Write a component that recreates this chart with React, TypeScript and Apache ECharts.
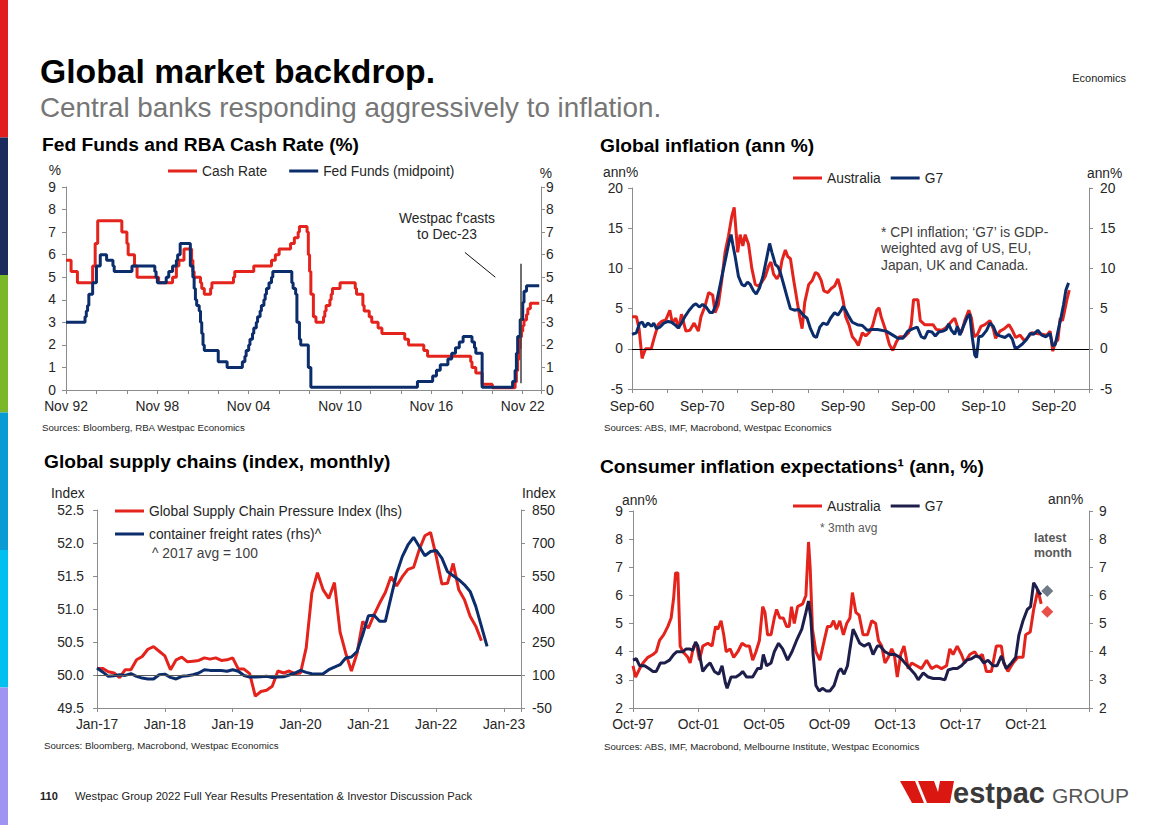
import React, { useEffect, useRef } from 'react';
import * as echarts from 'echarts';

const FF = '"Liberation Sans", Arial, Helvetica, sans-serif';
const FS = 13.8;
const RED = '#E3231C';
const NAVY = '#0B2D6B';
const G7DARK = '#1E1E4B';
const AXIS = '#8C8C8C';
const LABEL = '#262626';

// ---------- Chart 1: Fed Funds and RBA Cash Rate (step changes) ----------
const cashRateSteps: [string, number][] = [
  ['1992-11', 5.75], ['1993-03', 5.25], ['1993-08', 4.75], ['1994-08', 5.5], ['1994-10', 6.5], ['1994-12', 7.5],
  ['1996-07', 7.0], ['1996-11', 6.5], ['1996-12', 6.0], ['1997-05', 5.5], ['1997-07', 5.0], ['1998-12', 4.75],
  ['1999-11', 5.0], ['2000-02', 5.5], ['2000-04', 5.75], ['2000-08', 6.25], ['2001-02', 5.75], ['2001-03', 5.25],
  ['2001-04', 5.0], ['2001-09', 4.75], ['2001-10', 4.5], ['2001-12', 4.25], ['2002-05', 4.5], ['2002-06', 4.75],
  ['2003-11', 5.0], ['2003-12', 5.25], ['2005-03', 5.5], ['2006-05', 5.75], ['2006-08', 6.0], ['2006-11', 6.25],
  ['2007-08', 6.5], ['2007-11', 6.75], ['2008-02', 7.0], ['2008-03', 7.25], ['2008-09', 7.0], ['2008-10', 6.0],
  ['2008-11', 5.25], ['2008-12', 4.25], ['2009-02', 3.25], ['2009-04', 3.0], ['2009-10', 3.25], ['2009-11', 3.5],
  ['2009-12', 3.75], ['2010-03', 4.0], ['2010-04', 4.25], ['2010-05', 4.5], ['2010-11', 4.75], ['2011-11', 4.5],
  ['2011-12', 4.25], ['2012-05', 3.75], ['2012-06', 3.5], ['2012-10', 3.25], ['2012-12', 3.0], ['2013-05', 2.75],
  ['2013-08', 2.5], ['2015-02', 2.25], ['2015-05', 2.0], ['2016-05', 1.75], ['2016-08', 1.5], ['2019-06', 1.25],
  ['2019-07', 1.0], ['2019-10', 0.75], ['2020-03', 0.25], ['2020-11', 0.1], ['2022-05', 0.35], ['2022-06', 0.85],
  ['2022-07', 1.35], ['2022-08', 1.85], ['2022-09', 2.35], ['2022-10', 2.6], ['2022-11', 2.85], ['2022-12', 3.1],
  ['2023-02', 3.35], ['2023-03', 3.6], ['2023-05', 3.85], ['2023-12', 3.85],
];
const fedFundsSteps: [string, number][] = [
  ['1992-11', 3.0], ['1994-02', 3.25], ['1994-03', 3.5], ['1994-04', 3.75], ['1994-05', 4.25], ['1994-08', 4.75],
  ['1994-11', 5.5], ['1995-02', 6.0], ['1995-07', 5.75], ['1995-12', 5.5], ['1996-01', 5.25], ['1997-03', 5.5],
  ['1998-09', 5.25], ['1998-10', 5.0], ['1998-11', 4.75], ['1999-06', 5.0], ['1999-08', 5.25], ['1999-11', 5.5],
  ['2000-02', 5.75], ['2000-03', 6.0], ['2000-05', 6.5], ['2001-01', 5.5], ['2001-03', 5.0], ['2001-04', 4.5],
  ['2001-05', 4.0], ['2001-06', 3.75], ['2001-08', 3.5], ['2001-09', 3.0], ['2001-10', 2.5], ['2001-11', 2.0],
  ['2001-12', 1.75], ['2002-11', 1.25], ['2003-06', 1.0], ['2004-06', 1.25], ['2004-08', 1.5], ['2004-09', 1.75],
  ['2004-11', 2.0], ['2004-12', 2.25], ['2005-02', 2.5], ['2005-03', 2.75], ['2005-05', 3.0], ['2005-06', 3.25],
  ['2005-08', 3.5], ['2005-09', 3.75], ['2005-11', 4.0], ['2005-12', 4.25], ['2006-01', 4.5], ['2006-03', 4.75],
  ['2006-05', 5.0], ['2006-06', 5.25], ['2007-09', 4.75], ['2007-10', 4.5], ['2007-12', 4.25], ['2008-01', 3.0],
  ['2008-03', 2.25], ['2008-04', 2.0], ['2008-10', 1.0], ['2008-12', 0.125], ['2015-12', 0.375], ['2016-12', 0.625],
  ['2017-03', 0.875], ['2017-06', 1.125], ['2017-12', 1.375], ['2018-03', 1.625], ['2018-06', 1.875], ['2018-09', 2.125],
  ['2018-12', 2.375], ['2019-07', 2.125], ['2019-09', 1.875], ['2019-10', 1.625], ['2020-03', 0.125], ['2022-03', 0.375],
  ['2022-05', 0.875], ['2022-06', 1.625], ['2022-07', 2.375], ['2022-09', 3.125], ['2022-11', 3.875], ['2022-12', 4.375],
  ['2023-02', 4.625], ['2023-12', 4.625],
];
const chart1Start = 1992 + 10 / 12; // Nov-92

// ---------- Chart 2: Global inflation (decimal year, ann %) ----------
const ausCpi: [number, number][] = [
  [1960.67, 4.0], [1961.29, 4.0], [1961.67, 2.5], [1962.1, -1.2], [1962.33, -0.6], [1962.6, 0.0], [1963.4, 0.0],
  [1963.8, 1.3], [1964.38, 3.0], [1964.86, 3.4], [1965.48, 3.6], [1966.05, 4.8], [1966.4, 3.2], [1966.9, 3.8],
  [1967.3, 2.5], [1967.7, 4.3], [1968.33, 2.2], [1968.9, 2.3], [1969.5, 3.2], [1970.1, 2.2], [1970.48, 4.0],
  [1971.05, 5.3], [1971.57, 7.0], [1972.14, 6.7], [1972.48, 4.5], [1972.95, 5.5], [1973.43, 8.5], [1973.9, 12.0],
  [1974.38, 14.0], [1974.86, 16.5], [1975.2, 17.6], [1975.43, 15.0], [1975.7, 12.0], [1976.05, 14.2], [1976.43, 12.8],
  [1976.76, 14.2], [1977.24, 13.0], [1977.71, 10.0], [1978.2, 8.0], [1978.67, 7.8], [1979.14, 8.3], [1979.62, 9.0],
  [1980.1, 10.3], [1980.43, 10.8], [1980.8, 9.3], [1981.29, 8.7], [1981.67, 9.3], [1982.0, 11.0], [1982.48, 12.3],
  [1982.8, 11.5], [1983.2, 11.2], [1983.67, 8.5], [1984.14, 6.0], [1984.52, 4.0], [1984.86, 2.5], [1985.24, 5.8],
  [1985.8, 8.0], [1986.3, 8.5], [1986.76, 9.5], [1987.14, 9.3], [1987.57, 8.5], [1987.95, 7.2], [1988.52, 7.0],
  [1989.0, 7.5], [1989.48, 7.8], [1989.95, 8.7], [1990.33, 7.5], [1990.7, 6.0], [1991.05, 4.0], [1991.52, 3.0],
  [1992.0, 1.5], [1992.48, 1.0], [1992.86, 0.4], [1993.43, 2.0], [1993.9, 1.6], [1994.38, 2.0], [1994.86, 2.8],
  [1995.48, 4.8], [1995.8, 5.1], [1996.1, 4.0], [1996.67, 2.5], [1997.29, 0.5], [1997.76, -0.2], [1998.24, 0.8],
  [1998.7, 1.5], [1999.43, 1.5], [2000.0, 2.0], [2000.38, 3.0], [2000.71, 6.1], [2001.33, 6.1], [2001.67, 3.5],
  [2002.29, 3.0], [2003.48, 3.0], [2003.95, 2.4], [2004.67, 2.3], [2005.14, 2.5], [2005.7, 3.0], [2006.2, 3.5],
  [2006.57, 3.8], [2007.05, 2.5], [2007.52, 2.0], [2008.0, 3.5], [2008.57, 4.8], [2008.95, 3.8], [2009.33, 1.5],
  [2009.8, 1.8], [2010.3, 2.8], [2010.86, 3.0], [2011.57, 3.5], [2012.05, 2.5], [2012.38, 1.3], [2013.0, 2.2],
  [2013.62, 2.5], [2014.29, 3.0], [2014.76, 2.3], [2015.24, 1.4], [2015.86, 1.7], [2016.48, 1.0], [2017.05, 1.5],
  [2017.52, 2.0], [2018.24, 1.9], [2018.95, 1.8], [2019.67, 1.7], [2020.14, 2.2], [2020.52, -0.3], [2020.86, 0.8],
  [2021.24, 1.1], [2021.57, 3.8], [2021.9, 3.5], [2022.29, 5.1], [2022.52, 6.1], [2022.86, 7.3],
];
const g7Cpi: [number, number][] = [
  [1960.67, 1.8], [1961.29, 2.0], [1961.76, 3.2], [1962.14, 3.3], [1962.48, 2.7], [1962.95, 3.2], [1963.43, 2.8],
  [1963.76, 3.2], [1964.14, 2.5], [1964.62, 2.7], [1965.19, 3.2], [1965.81, 3.4], [1966.29, 3.3], [1966.76, 3.0],
  [1967.24, 2.6], [1967.71, 3.2], [1968.19, 4.0], [1968.8, 4.8], [1969.38, 5.4], [1969.76, 5.6], [1970.24, 5.2],
  [1970.71, 5.5], [1971.19, 5.2], [1971.76, 4.5], [1972.14, 4.5], [1972.62, 5.5], [1973.1, 7.5], [1973.57, 9.5],
  [1974.05, 11.5], [1974.52, 13.5], [1974.76, 14.2], [1975.0, 13.0], [1975.33, 11.5], [1975.81, 9.0], [1976.29, 8.0],
  [1976.67, 7.8], [1977.1, 8.3], [1977.48, 8.0], [1977.95, 7.2], [1978.33, 6.8], [1978.81, 7.6], [1979.29, 9.0],
  [1979.76, 11.0], [1980.24, 13.1], [1980.57, 12.0], [1981.05, 10.5], [1981.43, 10.2], [1981.76, 9.5], [1982.24, 8.0],
  [1982.71, 6.5], [1983.19, 5.0], [1983.76, 4.8], [1984.38, 4.9], [1985.0, 4.2], [1985.57, 3.8], [1986.05, 2.5],
  [1986.52, 1.6], [1986.9, 1.4], [1987.38, 2.7], [1987.86, 3.2], [1988.43, 3.0], [1988.9, 3.8], [1989.48, 4.5],
  [1989.95, 4.2], [1990.43, 4.8], [1990.71, 5.3], [1991.05, 4.8], [1991.52, 4.0], [1992.0, 3.3], [1992.71, 3.0],
  [1993.43, 2.9], [1994.14, 2.3], [1994.86, 2.4], [1995.57, 2.4], [1996.81, 2.2], [1997.76, 1.7], [1998.48, 1.3],
  [1999.19, 1.3], [1999.9, 2.2], [2000.62, 2.5], [2001.24, 2.7], [2001.81, 1.5], [2002.29, 1.3], [2002.76, 2.2],
  [2003.33, 2.1], [2003.81, 1.6], [2004.29, 2.1], [2004.9, 2.2], [2005.38, 2.4], [2005.71, 3.1], [2006.1, 2.3],
  [2006.57, 1.8], [2006.95, 2.8], [2007.29, 1.7], [2007.76, 2.7], [2008.38, 4.0], [2008.71, 4.3], [2009.05, 1.5],
  [2009.43, -0.8], [2009.67, -1.1], [2010.0, 1.5], [2010.48, 1.6], [2011.1, 2.3], [2011.57, 3.2], [2012.05, 2.8],
  [2012.52, 1.8], [2013.0, 1.6], [2013.71, 1.4], [2014.29, 1.8], [2014.76, 1.2], [2015.14, 0.1], [2015.62, 0.2],
  [2016.19, 0.6], [2016.81, 1.2], [2017.29, 1.9], [2017.76, 1.8], [2018.38, 2.3], [2018.95, 1.7], [2019.52, 1.5],
  [2020.14, 1.9], [2020.48, 0.4], [2020.86, 0.5], [2021.33, 2.5], [2021.71, 4.0], [2022.05, 5.5], [2022.38, 7.3],
  [2022.76, 8.2],
];
const chart2Start = 1960 + 8 / 12; // Sep-60

// ---------- Chart 3: Global supply chains (monthly from Jan-17) ----------
const gscpi: number[] = [
  50.10, 50.10, 50.05, 50.03, 49.96, 50.08, 50.08, 50.23, 50.28, 50.39, 50.43, 50.36,
  50.29, 50.08, 50.23, 50.27, 50.20, 50.21, 50.22, 50.26, 50.24, 50.26, 50.22, 50.23,
  50.26, 50.09, 50.09, 50.02, 49.68, 49.75, 49.77, 49.83, 50.06, 50.03, 50.06, 50.02,
  50.03, 50.41, 51.24, 51.55, 51.29, 51.16, 51.40, 50.65, 50.33, 50.06, 50.33, 50.81,
  50.71, 50.91, 51.09, 51.25, 51.49, 51.35, 51.49, 51.60, 51.63, 51.90, 52.11, 52.16,
  51.80, 51.38, 51.39, 51.69, 51.29, 51.14, 50.89, 50.74, 50.52,
];
const freightRates: number[] = [
  132, 114, 94, 97, 101, 98, 106, 94, 86, 82, 82, 101,
  104, 89, 82, 94, 97, 101, 109, 124, 121, 120, 120, 117,
  124, 117, 98, 91, 91, 92, 94, 89, 91, 92, 100, 109,
  121, 112, 106, 104, 106, 124, 136, 147, 177, 182, 207, 283,
  369, 372, 344, 344, 453, 561, 638, 691, 726, 684, 642, 661,
  666, 631, 570, 551, 533, 510, 480, 412, 321, 230,
];
const FREIGHT_OFFSET = 50; // right axis runs -50..850; shifted so ticks start at a multiple of 150

// ---------- Chart 4: Consumer inflation expectations (decimal year) ----------
const ausExp: [number, number][] = [
  [1997.75, 3.5], [1997.91, 3.1], [1998.16, 3.4], [1998.36, 3.6], [1998.66, 3.8], [1998.97, 3.9], [1999.17, 4.0],
  [1999.37, 4.4], [1999.62, 4.6], [1999.88, 4.9], [2000.08, 5.2], [2000.23, 5.9], [2000.35, 6.8], [2000.49, 6.8],
  [2000.63, 4.2], [2000.8, 4.0], [2001.1, 3.8], [2001.24, 3.6], [2001.45, 4.2], [2001.65, 4.2], [2001.81, 3.7],
  [2002.01, 4.2], [2002.32, 4.3], [2002.58, 4.2], [2002.79, 4.9], [2002.93, 4.8], [2003.13, 5.1], [2003.29, 4.6],
  [2003.44, 4.0], [2003.68, 4.1], [2003.9, 3.8], [2004.15, 4.0], [2004.41, 4.3], [2004.65, 4.2], [2004.86, 4.2],
  [2005.06, 3.7], [2005.26, 4.0], [2005.47, 4.4], [2005.67, 5.6], [2005.81, 5.4], [2005.97, 4.6], [2006.18, 4.6],
  [2006.38, 5.2], [2006.52, 5.5], [2006.72, 5.2], [2006.93, 5.2], [2007.13, 4.9], [2007.29, 4.9], [2007.43, 5.6],
  [2007.6, 5.0], [2007.8, 5.6], [2008.11, 5.7], [2008.31, 6.0], [2008.47, 7.9], [2008.57, 7.0], [2008.71, 4.8],
  [2008.92, 4.0], [2009.16, 3.7], [2009.43, 4.4], [2009.63, 4.9], [2009.83, 4.9], [2010.0, 5.1], [2010.18, 4.8],
  [2010.38, 5.1], [2010.6, 4.6], [2010.8, 5.0], [2011.0, 5.2], [2011.15, 6.1], [2011.36, 5.4], [2011.56, 5.3],
  [2011.8, 4.6], [2012.07, 4.6], [2012.33, 5.1], [2012.57, 5.0], [2012.74, 4.4], [2012.94, 4.2], [2013.14, 3.6],
  [2013.34, 3.8], [2013.55, 4.1], [2013.71, 3.9], [2013.89, 3.1], [2014.1, 3.9], [2014.3, 4.2], [2014.56, 3.4],
  [2014.77, 3.6], [2015.07, 3.5], [2015.37, 3.4], [2015.68, 3.7], [2015.98, 3.4], [2016.29, 3.5], [2016.59, 3.4],
  [2016.9, 3.5], [2017.1, 4.1], [2017.3, 3.9], [2017.55, 4.2], [2017.81, 3.9], [2018.01, 3.6], [2018.32, 3.9],
  [2018.62, 4.0], [2018.83, 3.8], [2019.09, 3.9], [2019.33, 3.3], [2019.64, 3.3], [2019.94, 4.2], [2020.25, 4.2],
  [2020.39, 3.6], [2020.65, 3.3], [2020.96, 3.6], [2021.26, 3.8], [2021.57, 3.8], [2021.73, 4.6], [2022.01, 4.7],
  [2022.22, 5.5], [2022.48, 6.2], [2022.68, 5.7],
];
const g7Exp: [number, number][] = [
  [1997.75, 3.7], [1997.95, 3.75], [1998.16, 3.5], [1998.46, 3.5], [1998.72, 3.4], [1998.97, 3.3], [1999.17, 3.3],
  [1999.42, 3.6], [1999.68, 3.6], [1999.98, 3.7], [2000.23, 3.9], [2000.43, 4.0], [2000.8, 4.0], [2001.0, 4.1],
  [2001.2, 4.1], [2001.4, 4.05], [2001.57, 4.35], [2001.71, 4.2], [2002.01, 3.3], [2002.26, 3.5], [2002.46, 3.6],
  [2002.72, 3.3], [2002.99, 3.2], [2003.19, 3.5], [2003.39, 2.9], [2003.5, 2.7], [2003.74, 3.1], [2004.04, 3.1],
  [2004.29, 3.2], [2004.45, 3.3], [2004.69, 3.1], [2005.06, 3.1], [2005.36, 3.4], [2005.57, 3.4], [2005.71, 3.9],
  [2005.91, 3.5], [2006.18, 3.6], [2006.38, 4.0], [2006.64, 4.3], [2006.89, 4.1], [2007.19, 3.7], [2007.46, 4.0],
  [2007.74, 4.4], [2008.06, 4.8], [2008.31, 5.4], [2008.47, 5.8], [2008.61, 5.2], [2008.75, 3.9], [2008.92, 2.8],
  [2009.12, 2.6], [2009.32, 2.7], [2009.57, 2.6], [2009.77, 2.6], [2010.03, 2.8], [2010.3, 3.3], [2010.44, 3.4],
  [2010.64, 3.2], [2010.85, 3.5], [2011.0, 4.1], [2011.19, 4.8], [2011.36, 4.6], [2011.6, 4.3], [2011.86, 4.2],
  [2012.17, 4.3], [2012.41, 3.9], [2012.67, 4.2], [2012.84, 4.2], [2013.14, 4.0], [2013.45, 3.9], [2013.75, 3.9],
  [2014.05, 3.8], [2014.36, 3.6], [2014.66, 3.4], [2014.97, 3.2], [2015.17, 3.0], [2015.48, 3.25], [2015.78, 3.1],
  [2016.09, 3.05], [2016.49, 3.05], [2016.8, 3.0], [2017.0, 3.35], [2017.27, 3.4], [2017.55, 3.4], [2017.81, 3.5],
  [2018.12, 3.7], [2018.42, 3.75], [2018.68, 3.85], [2018.93, 3.8], [2019.17, 3.6], [2019.43, 3.7], [2019.74, 3.5],
  [2019.98, 3.5], [2020.25, 3.85], [2020.55, 3.4], [2020.86, 3.6], [2021.12, 3.8], [2021.32, 4.6], [2021.57, 5.1],
  [2021.83, 5.5], [2022.03, 5.6], [2022.22, 6.45], [2022.38, 6.3], [2022.58, 6.05], [2022.68, 6.1],
];
const latestMonthYear = 2023.05;
const g7Latest = 6.16;
const ausLatest = 5.42;
const chart4Start = 1997 + 9 / 12; // Oct-97

// ---------- helpers ----------
const ym = (s: string) => {
  const [y, m] = s.split('-').map(Number);
  return y + (m - 1) / 12;
};
const pad2 = (n: number) => String(((n % 100) + 100) % 100).padStart(2, '0');
const near = (v: number) => Math.abs(v - Math.round(v)) < 1e-6;

const txt = (x: number, yMid: number, text: string, fs: number, o: any = {}) => ({
  type: 'text',
  x,
  y: yMid,
  silent: true,
  style: {
    text,
    fontSize: fs,
    fontFamily: FF,
    fontWeight: o.bold ? 'bold' : 'normal',
    fill: o.color || '#000',
    align: o.align || 'left',
    verticalAlign: 'middle',
  },
});

const xAxisBase = (grid: number, min: number, max: number, interval: number, formatter: (v: number) => string, margin = 9) => ({
  type: 'value',
  gridIndex: grid,
  min,
  max,
  interval,
  axisLine: { show: true, onZero: false, lineStyle: { color: AXIS, width: 1 } },
  axisTick: { show: true, length: 4, lineStyle: { color: AXIS } },
  splitLine: { show: false },
  axisLabel: { color: LABEL, fontSize: FS, fontFamily: FF, margin, formatter, showMinLabel: true, showMaxLabel: true },
});

const yAxisBase = (grid: number, pos: 'left' | 'right', min: number, max: number, interval: number, margin: number, formatter?: any) => ({
  type: 'value',
  gridIndex: grid,
  position: pos,
  min,
  max,
  interval,
  axisLine: { show: true, onZero: false, lineStyle: { color: AXIS, width: 1 } },
  axisTick: { show: true, length: 4, lineStyle: { color: AXIS } },
  splitLine: { show: false },
  axisLabel: { color: LABEL, fontSize: FS, fontFamily: FF, margin, formatter },
});

const lineSeries = (name: string, xi: number, yi: number, color: string, data: any[], extra: any = {}) => ({
  type: 'line',
  name,
  xAxisIndex: xi,
  yAxisIndex: yi,
  data,
  showSymbol: false,
  symbol: 'none',
  silent: true,
  lineStyle: { color, width: 3 },
  itemStyle: { color },
  ...extra,
});

const legendBase = (left: number, top: number, data: any[], extra: any = {}) => ({
  left,
  top,
  padding: 0,
  icon: 'rect',
  itemWidth: 29,
  itemHeight: 3,
  itemGap: 20,
  selectedMode: false,
  textStyle: { color: LABEL, fontSize: FS, fontFamily: FF },
  data,
  ...extra,
});

function buildOption() {
  const stripColors = ['#E01E1E', '#1B2B5E', '#7AB82A', '#0A9BD4', '#00C0F0', '#9F94F2'];
  const strip = stripColors.map((c, i) => ({
    type: 'rect',
    silent: true,
    shape: { x: 0, y: i * 137.5, width: 8, height: 137.6 },
    style: { fill: c },
  }));

  const graphics: any[] = [
    ...strip,
    txt(40, 71, 'Global market backdrop.', 33.7, { bold: true }),
    txt(40, 107, 'Central banks responding aggressively to inflation.', 27.8, { color: '#767676' }),
    txt(1126, 78, 'Economics', 11, { align: 'right', color: '#222' }),
    txt(42, 144.5, 'Fed Funds and RBA Cash Rate (%)', 19.2, { bold: true }),
    txt(600, 145.5, 'Global inflation (ann %)', 19.2, { bold: true }),
    txt(44, 461.5, 'Global supply chains (index, monthly)', 19.2, { bold: true }),
    txt(600, 466.5, 'Consumer inflation expectations\u00B9 (ann, %)', 19.2, { bold: true }),
    // unit labels
    txt(55, 170, '%', FS, { align: 'center', color: LABEL }),
    txt(546, 173, '%', FS, { align: 'center', color: LABEL }),
    txt(603, 172, 'ann%', FS, { color: LABEL }),
    txt(1087, 173, 'ann%', FS, { color: LABEL }),
    txt(51, 493, 'Index', FS, { color: LABEL }),
    txt(522, 493, 'Index', FS, { color: LABEL }),
    txt(622, 500, 'ann%', FS, { color: LABEL }),
    txt(1048, 499, 'ann%', FS, { color: LABEL }),
    // annotations
    txt(447, 218, "Westpac f'casts", FS, { align: 'center', color: LABEL }),
    txt(447, 234, 'to Dec-23', FS, { align: 'center', color: LABEL }),
    txt(881, 232, '* CPI inflation; \u2018G7\u2019 is GDP-', FS, { color: '#404040' }),
    txt(881, 248.5, 'weighted avg of US, EU,', FS, { color: '#404040' }),
    txt(881, 265, 'Japan, UK and Canada.', FS, { color: '#404040' }),
    txt(152, 553, '^ 2017 avg = 100', FS, { color: '#404040' }),
    txt(820, 528, '* 3mth avg', 12, { color: '#595959' }),
    txt(1034, 538, 'latest', 12.4, { bold: true, color: '#595959' }),
    txt(1034, 553, 'month', 12.4, { bold: true, color: '#595959' }),
    // sources
    txt(42, 427, 'Sources: Bloomberg, RBA Westpac Economics', 9.7, { color: LABEL }),
    txt(604, 427, 'Sources: ABS, IMF, Macrobond, Westpac Economics', 9.7, { color: LABEL }),
    txt(44, 745, 'Sources: Bloomberg, Macrobond, Westpac Economics', 9.7, { color: LABEL }),
    txt(604, 746, 'Sources: ABS, IMF, Macrobond, Melbourne Institute, Westpac Economics', 9.7, { color: LABEL }),
    // footer
    txt(40, 796, '110', 11, { bold: true, color: '#222' }),
    txt(75, 796, 'Westpac Group 2022 Full Year Results Presentation & Investor Discussion Pack', 11.2, { color: '#222' }),
    // logo
    { type: 'polygon', silent: true, shape: { points: [[900, 781], [915, 781], [924, 803], [912, 803]] }, style: { fill: '#DA1710' } },
    { type: 'polygon', silent: true, shape: { points: [[918, 781], [934, 781], [942, 803], [927, 803]] }, style: { fill: '#DA1710' } },
    { type: 'polygon', silent: true, shape: { points: [[940, 781], [954, 781], [950, 803], [936, 803]] }, style: { fill: '#DA1710' } },
    txt(953, 793, 'estpac', 29, { bold: true, color: '#3A3A3A' }),
    txt(1052, 795, 'GROUP', 21, { color: '#555' }),
  ];

  const fmt1 = (v: number) => (near(v) && Math.round(v) % 6 === 0 && v < 31 ? 'Nov ' + pad2(92 + Math.round(v)) : '');
  const fmt2 = (v: number) => (near(v) && Math.round(v) % 10 === 0 && v < 65 ? 'Sep-' + pad2(60 + Math.round(v)) : '');
  const fmt3 = (v: number) => (near(v) && Math.round(v) % 12 === 0 ? 'Jan-' + pad2(17 + Math.round(v) / 12) : '');
  const fmt4 = (v: number) => (near(v) && Math.round(v) % 4 === 0 ? 'Oct-' + pad2(97 + Math.round(v)) : '');

  const cashData = cashRateSteps.map(([d, v]) => [ym(d) - chart1Start, v]);
  const fedData = fedFundsSteps.map(([d, v]) => [ym(d) - chart1Start, v]);

  return {
    animation: false,
    backgroundColor: '#ffffff',
    textStyle: { fontFamily: FF },
    grid: [
      { left: 66, top: 187, width: 475, height: 203 },
      { left: 632, top: 188, width: 457, height: 201 },
      { left: 97, top: 510, width: 424, height: 198 },
      { left: 633, top: 511, width: 456, height: 197 },
    ],
    xAxis: [
      xAxisBase(0, 0, 31.2, 2, fmt1, 9),
      xAxisBase(1, 0, 65, 5, fmt2, 10),
      xAxisBase(2, 0, 75, 12, fmt3, 9),
      xAxisBase(3, 0, 27.85, 4, fmt4, 9),
    ],
    yAxis: [
      yAxisBase(0, 'left', 0, 9, 1, 10),
      yAxisBase(0, 'right', 0, 9, 1, 5),
      yAxisBase(1, 'left', -5, 20, 5, 9),
      yAxisBase(1, 'right', -5, 20, 5, 11),
      yAxisBase(2, 'left', 49.5, 52.5, 0.5, 13, (v: number) => v.toFixed(1)),
      yAxisBase(2, 'right', 0, 900, 150, 11, (v: number) => String(v - FREIGHT_OFFSET)),
      yAxisBase(3, 'left', 2, 9, 1, 10),
      yAxisBase(3, 'right', 2, 9, 1, 10),
    ],
    legend: [
      legendBase(168, 164, ['Cash Rate', 'Fed Funds (midpoint)'], { itemGap: 22 }),
      legendBase(793, 171, ['Australia', 'G7'], { itemGap: 10 }),
      legendBase(115, 504, ['Global Supply Chain Pressure Index (lhs)', 'container freight rates (rhs)^'], { orient: 'vertical', itemGap: 9 }),
      legendBase(793, 499, [{ name: 'Australia', itemStyle: { color: RED } }, { name: 'G7', itemStyle: { color: G7DARK } }], { itemGap: 10 }),
    ],
    graphic: graphics,
    series: [
      lineSeries('Cash Rate', 0, 0, RED, cashData, { step: 'end' }),
      lineSeries('Fed Funds (midpoint)', 0, 0, NAVY, fedData, {
        step: 'end',
        markLine: {
          silent: true,
          symbol: 'none',
          label: { show: false },
          data: [
            [{ coord: [29.9, 0.3], lineStyle: { color: '#404040', width: 1.5, type: 'solid' } }, { coord: [29.9, 5.6] }],
            [{ coord: [26.2, 6.1], lineStyle: { color: '#111', width: 1, type: 'solid' } }, { coord: [28.2, 5.0] }],
          ],
        },
      }),
      lineSeries('Australia', 1, 2, RED, ausCpi.map(([t, v]) => [t - chart2Start, v]), {
        markLine: {
          silent: true,
          symbol: 'none',
          label: { show: false },
          lineStyle: { color: '#000', width: 1, type: 'solid' },
          data: [{ yAxis: 0 }],
        },
      }),
      lineSeries('G7', 1, 2, NAVY, g7Cpi.map(([t, v]) => [t - chart2Start, v])),
      lineSeries('Global Supply Chain Pressure Index (lhs)', 2, 4, RED, gscpi.map((v, i) => [i, v]), {
        markLine: {
          silent: true,
          symbol: 'none',
          label: { show: false },
          lineStyle: { color: '#595959', width: 1, type: 'solid' },
          data: [{ yAxis: 50 }],
        },
      }),
      lineSeries('container freight rates (rhs)^', 2, 5, NAVY, freightRates.map((v, i) => [i, v + FREIGHT_OFFSET])),
      lineSeries('Australia', 3, 6, RED, ausExp.map(([t, v]) => [t - chart4Start, v])),
      lineSeries('G7', 3, 6, G7DARK, g7Exp.map(([t, v]) => [t - chart4Start, v])),
      {
        type: 'scatter',
        name: 'G7 latest month',
        xAxisIndex: 3,
        yAxisIndex: 6,
        symbol: 'diamond',
        symbolSize: 12,
        silent: true,
        itemStyle: { color: '#4B5A6B' },
        data: [[latestMonthYear - chart4Start, g7Latest]],
      },
      {
        type: 'scatter',
        name: 'Australia latest month',
        xAxisIndex: 3,
        yAxisIndex: 6,
        symbol: 'diamond',
        symbolSize: 12,
        silent: true,
        itemStyle: { color: RED },
        data: [[latestMonthYear - chart4Start, ausLatest]],
      },
    ],
  };
}

export default function App() {
  const ref = useRef<HTMLDivElement>(null);
  useEffect(() => {
    document.body.style.margin = '0';
    const chart = echarts.init(ref.current as HTMLDivElement, null, { renderer: 'svg' });
    chart.setOption(buildOption() as any);
    return () => chart.dispose();
  }, []);
  return <div ref={ref} style={{ width: 1168, height: 825, background: '#fff' }} />;
}
